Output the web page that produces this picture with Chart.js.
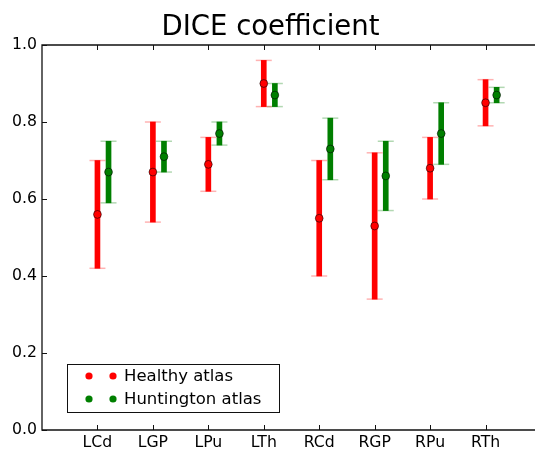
<!DOCTYPE html>
<html>
<head>
<meta charset="utf-8">
<script src="https://cdn.jsdelivr.net/npm/chart.js@4.4.0/dist/chart.umd.min.js"></script>
<style>
  html, body { margin: 0; padding: 0; background: #fff; overflow: hidden; }
  canvas { display: block; }
</style>
</head>
<body>
<canvas id="diceChart" width="582" height="449"></canvas>
<script>
const categories = ['LCd', 'LGP', 'LPu', 'LTh', 'RCd', 'RGP', 'RPu', 'RTh'];

const healthyMean = [0.56, 0.67, 0.69, 0.90, 0.55, 0.53, 0.68, 0.85];
const healthyLow  = [0.42, 0.54, 0.62, 0.84, 0.40, 0.34, 0.60, 0.79];
const healthyHigh = [0.70, 0.80, 0.76, 0.96, 0.70, 0.72, 0.76, 0.91];

const huntingtonMean = [0.67, 0.71, 0.77, 0.87, 0.73, 0.66, 0.77, 0.87];
const huntingtonLow  = [0.59, 0.67, 0.74, 0.84, 0.65, 0.57, 0.69, 0.85];
const huntingtonHigh = [0.75, 0.75, 0.80, 0.90, 0.81, 0.75, 0.85, 0.89];

const yTicks = [0, 0.2, 0.4, 0.6, 0.8, 1.0];

const FONT = '"DejaVu Sans", sans-serif';

// one series -> range bar, cap marks and mean marker
function seriesDatasets(label, color, capColor, offset, mean, low, high) {
	const xs = categories.map((c, i) => i + 1 + offset);
	return [
		{
			type: 'bar',
			label: label + ' range',
			data: xs.map((x, i) => ({ x: x, y: [low[i], high[i]] })),
			backgroundColor: color,
			barThickness: 5,
			grouped: false,
			order: 3
		},
		{
			type: 'scatter',
			label: label + ' caps',
			data: xs.flatMap((x, i) => [{ x: x, y: low[i] }, { x: x, y: high[i] }]),
			pointStyle: 'line',
			pointRadius: 8,
			pointBorderColor: capColor,
			pointBorderWidth: 1.5,
			order: 2
		},
		{
			type: 'scatter',
			label: label,
			data: xs.map((x, i) => ({ x: x, y: mean[i] })),
			pointStyle: 'circle',
			pointRadius: 3.9,
			pointBackgroundColor: color,
			pointBorderColor: 'rgba(0,0,0,0.55)',
			pointBorderWidth: 1,
			order: 1
		}
	];
}

// axes box with inward ticks
const framePlugin = {
	id: 'frame',
	afterDatasetsDraw(chart) {
		const { ctx, chartArea: a, scales } = chart;
		ctx.save();
		ctx.strokeStyle = '#111';
		ctx.lineWidth = 1.3;
		ctx.beginPath();
		ctx.moveTo(a.right, a.top);
		ctx.lineTo(a.left, a.top);
		ctx.lineTo(a.left, a.bottom);
		ctx.lineTo(a.right, a.bottom);
		ctx.lineTo(a.right, a.top);
		ctx.stroke();

		ctx.lineWidth = 1;
		ctx.beginPath();
		scales.y.ticks.forEach(t => {
			const y = Math.round(scales.y.getPixelForValue(t.value)) + 0.5;
			ctx.moveTo(a.left, y); ctx.lineTo(a.left + 5, y);
			ctx.moveTo(a.right, y); ctx.lineTo(a.right - 5, y);
		});
		scales.x.ticks.forEach(t => {
			const x = Math.round(scales.x.getPixelForValue(t.value)) + 0.5;
			ctx.moveTo(x, a.bottom); ctx.lineTo(x, a.bottom - 5);
			ctx.moveTo(x, a.top); ctx.lineTo(x, a.top + 5);
		});
		ctx.stroke();
		ctx.restore();
	}
};

// legend box with two markers per entry
const legendPlugin = {
	id: 'twoPointLegend',
	afterDraw(chart) {
		const { ctx, chartArea: a } = chart;
		const entries = chart.data.datasets.filter(d => d.pointStyle === 'circle');
		const left = a.left + 25, top = a.bottom - 66, w = 212, h = 48;
		ctx.save();
		ctx.fillStyle = '#fff';
		ctx.fillRect(left, top, w, h);
		ctx.strokeStyle = '#111';
		ctx.lineWidth = 1;
		ctx.strokeRect(left + 0.5, top + 0.5, w, h);
		ctx.font = '16.5px ' + FONT;
		ctx.textBaseline = 'middle';
		entries.forEach((d, i) => {
			const y = top + 12 + i * 23;
			[left + 22, left + 46].forEach(x => {
				ctx.beginPath();
				ctx.arc(x, y, 3.6, 0, Math.PI * 2);
				ctx.fillStyle = d.pointBackgroundColor;
				ctx.fill();
			});
			ctx.fillStyle = '#000';
			ctx.fillText(d.label, left + 57, y + 1);
		});
		ctx.restore();
	}
};

const ctx = document.getElementById('diceChart').getContext('2d');
const diceChart = new Chart(ctx, {
	type: 'scatter',
	data: {
		datasets: [
			...seriesDatasets('Healthy atlas', '#ff0000', 'rgba(255,0,0,0.3)', 0,
				healthyMean, healthyLow, healthyHigh),
			...seriesDatasets('Huntington atlas', '#007f00', 'rgba(0,127,0,0.3)', 0.2,
				huntingtonMean, huntingtonLow, huntingtonHigh)
		]
	},
	options: {
		responsive: false,
		animation: false,
		layout: { padding: { left: 0, right: 41, top: 0, bottom: 0 } },
		plugins: {
			legend: { display: false },
			tooltip: { enabled: false },
			title: {
				display: true,
				text: 'DICE coefficient',
				color: '#000',
				font: { family: FONT, size: 27.5, weight: 'normal', lineHeight: 1.2 },
				padding: { top: 11.5, bottom: 0.5 }
			}
		},
		scales: {
			x: {
				type: 'linear',
				min: 0,
				max: 9,
				offset: false,
				grid: { display: false, drawTicks: false },
				border: { display: false },
				afterBuildTicks: scale => {
					scale.ticks = categories.map((c, i) => ({ value: i + 1 }));
				},
				afterFit: scale => { scale.height = 19; },
				ticks: {
					color: '#000',
					padding: 3.5,
					maxRotation: 0,
					font: { family: FONT, size: 15.7 },
					callback: v => categories[v - 1]
				}
			},
			y: {
				min: 0,
				max: 1,
				grid: { display: false, drawTicks: false },
				border: { display: false },
				afterBuildTicks: scale => {
					scale.ticks = yTicks.map(v => ({ value: v }));
				},
				afterFit: scale => { scale.width = 42; },
				ticks: {
					color: '#000',
					padding: 5,
					font: { family: FONT, size: 15.7 },
					callback: v => v.toFixed(1)
				}
			}
		}
	},
	plugins: [framePlugin, legendPlugin]
});
</script>
</body>
</html>
